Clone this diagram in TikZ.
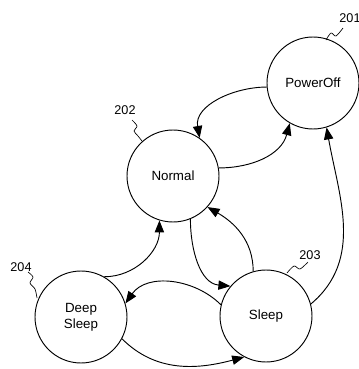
\documentclass[tikz,border=0pt]{standalone}
\usepackage{fontspec}
\setmainfont{Liberation Sans}
\usetikzlibrary{arrows.meta}
\begin{document}
\begin{tikzpicture}[x=0.75pt,y=0.75pt,
		state/.style={circle,draw,line width=0.7pt,minimum size=69pt,inner sep=0pt,align=center,font=\fontsize{10}{12}\selectfont},
		trans/.style={-{Triangle[length=9pt,width=7pt]},line width=0.7pt},
		refno/.style={font=\fontsize{9.5}{11}\selectfont},
		wave/.style={line width=0.5pt}]
		\useasboundingbox (0,0) rectangle (359,369);

		\draw (313,286) node (pwr) [state] {PowerOff};
		\draw (173,193) node (nrm) [state] {Normal};
		\draw (81,52) node (deep) [state] {Deep\\Sleep};
		\draw (266,53) node (slp) [state] {Sleep};

		\draw[trans] (pwr.185) to[out=180,in=100] (nrm.55);
		\draw[trans] (nrm.10) to[out=0,in=255] (pwr.240);
		\draw[trans] (nrm.292) to[out=270,in=175] (slp.140);
		\draw[trans] (slp.106) to[out=90,in=-30] (nrm.318);
		\draw[trans] (slp.15) to[out=40,in=-80] (pwr.287);
		\draw[trans] (slp.166) to[out=135,in=55] (deep.17);
		\draw[trans] (deep.60) to[out=0,in=270] (nrm.253);
		\draw[trans] (deep.-28) to[out=-45,in=195] (slp.242);


		\draw (350,351) node (n201) [refno] {201};
		\draw (125,259) node (n202) [refno] {202};
		\draw (310,114) node (n203) [refno] {203};
		\draw (21,102) node (n204) [refno] {204};

		\draw[wave] plot[smooth] coordinates {(326,329) (331,336) (336,333) (343,341)};
		\draw[wave] plot[smooth] coordinates {(132,249) (137,243) (134,238) (138,233) (142,228)};
		\draw[wave] plot[smooth] coordinates {(287,96) (294,103) (300,100) (308,107)};
		\draw[wave] plot[smooth] coordinates {(28,97) (33,92) (30,86) (35,80) (37,71)};
	\end{tikzpicture}
\end{document}
